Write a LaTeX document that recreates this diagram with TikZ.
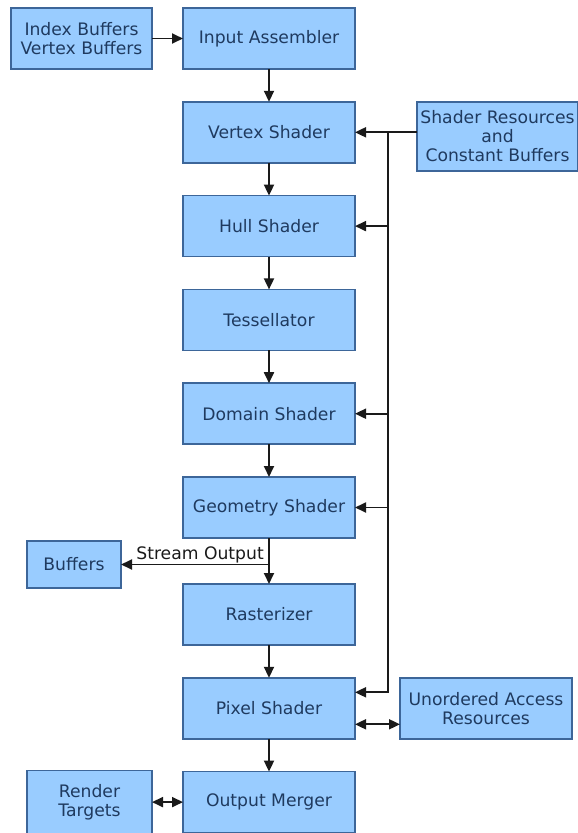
\documentclass[tikz,border=0pt]{standalone}
\usepackage{fontspec}
\setmainfont{DejaVu Sans}
\usetikzlibrary{arrows.meta, positioning}
\definecolor{boxfill}{HTML}{99CCFF}
\definecolor{boxedge}{HTML}{3D6699}
\definecolor{boxtext}{HTML}{1F3A5F}
\definecolor{lineblack}{HTML}{1A1A1A}

\begin{document}
\begin{tikzpicture}[
    x=1pt, y=-1pt,
    node distance=32.8pt,
    stage/.style={rectangle, draw=boxedge, fill=boxfill, text=boxtext, line width=1.6pt, outer sep=0pt, minimum width=172pt, minimum height=61pt, align=center, inner sep=2pt, font=\fontsize{17.2}{19}\selectfont},
    lbl/.style={text=lineblack, inner sep=1pt, font=\fontsize{17.2}{19}\selectfont},
    arr/.style={-{Triangle[length=11pt,width=10pt]}, lineblack, line width=1.8pt},
    dblarr/.style={{Triangle[length=11pt,width=10pt]}-{Triangle[length=11pt,width=10pt]}, lineblack, line width=1.8pt},
  ]
  \useasboundingbox (0,0) rectangle (578,833);

  % pipeline stages
  \node[stage] (ia) at (269,38.5) {Input Assembler};
  \node[stage, below=of ia] (vs) {Vertex Shader};
  \node[stage, below=of vs] (hs) {Hull Shader};
  \node[stage, below=of hs] (ts) {Tessellator};
  \node[stage, below=of ts] (ds) {Domain Shader};
  \node[stage, below=of ds] (gs) {Geometry Shader};
  \node[stage, below=46pt of gs] (rs) {Rasterizer};
  \node[stage, below=of rs] (ps) {Pixel Shader};
  \node[stage, below=of ps] (om) {Output Merger};

  % resources
  \node[stage, minimum width=141pt, left=31pt of ia] (ivb) {Index Buffers\\Vertex Buffers};
  \node[stage, minimum width=161pt, minimum height=69pt, anchor=north west] (src) at ([xshift=62pt]vs.north east) {Shader Resources\\and\\Constant Buffers};
  \node[stage, minimum width=94pt, minimum height=47pt] (buf) at (74,564.5) {Buffers};
  \node[stage, right=45pt of ps] (uav) {Unordered Access\\Resources};
  \node[stage, minimum width=125pt, minimum height=63pt, left=31pt of om] (rt) {Render\\Targets};

  \draw[arr] (ivb) -- (ia);
  \foreach \a/\b in {ia/vs, vs/hs, hs/ts, ts/ds, ds/gs, gs/rs, rs/ps, ps/om}
    \draw[arr] (\a) -- (\b);

  % shader resource bus
  \draw[arr] (src.west |- vs.east) -- (vs.east);
  \coordinate (bustop) at ([xshift=33pt]vs.east);
  \draw[arr] (bustop) |- ([yshift=16pt]ps.east);
  \foreach \s in {hs, ds, gs}
    \draw[arr] (bustop |- \s.east) -- (\s.east);

  \draw[dblarr] ([yshift=-16pt]ps.east) -- ([yshift=-16pt]uav.west);
  \draw[dblarr] (rt) -- (om);

  % stream output
  \coordinate (so) at (gs.south |- buf.east);
  \draw[arr] (so) -- (buf.east);
  \node[lbl, anchor=south east] (solbl) at ([xshift=-4pt]so) {Stream Output};
\end{tikzpicture}
\end{document}
